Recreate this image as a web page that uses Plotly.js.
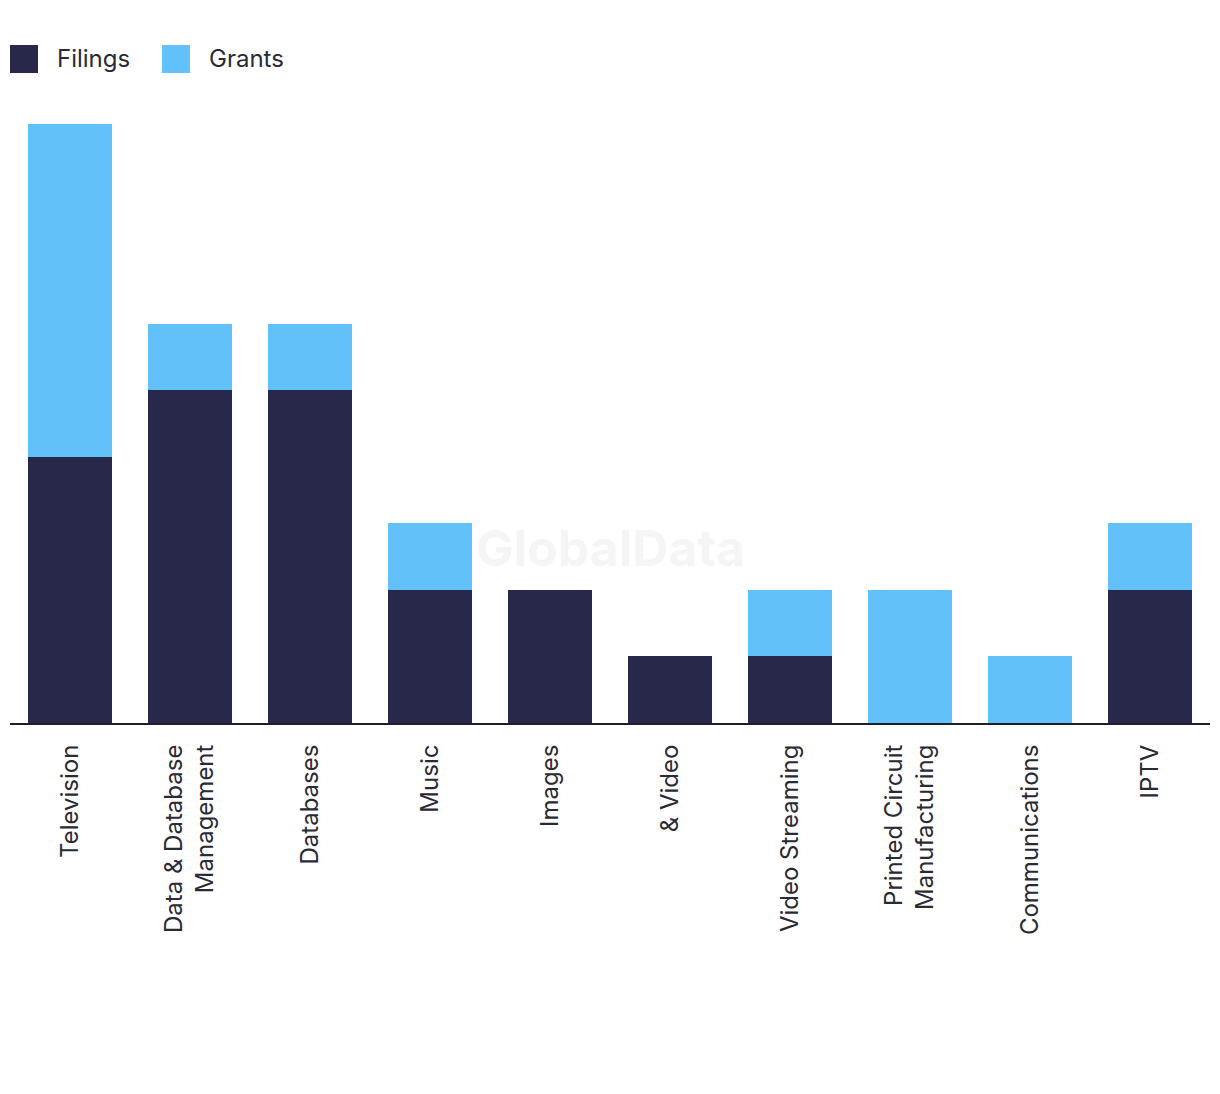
<!DOCTYPE html>
<html>
<head>
<meta charset="utf-8">
<script src="https://cdn.plot.ly/plotly-3.0.1.min.js"></script>
<style>html,body{margin:0;padding:0;background:#fff;}#chart{width:1220px;height:1094px;}</style>
</head>
<body>
<div id="chart"></div>
<script>
const categories = ["Television", "Data & Database<br>Management", "Databases", "Music", "Images", "& Video", "Video Streaming", "Printed Circuit<br>Manufacturing", "Communications", "IPTV"];
const filings = [4, 5, 5, 2, 2, 1, 1, 0, 0, 2];
const grants = [5, 1, 1, 1, 0, 0, 1, 2, 1, 1];
const seriesNames = ["Filings", "Grants"];
const seriesColors = ["#27284a", "#61c1f8"];

const fontFamily = "Inter, 'Liberation Sans', sans-serif";
const textColor = "#2a2a35";
const data = [
  {type: "bar", name: seriesNames[0], x: categories, y: filings, marker: {color: seriesColors[0]}, hoverinfo: "x+y+name"},
  {type: "bar", name: seriesNames[1], x: categories, y: grants, marker: {color: seriesColors[1]}, hoverinfo: "x+y+name"}
];

// custom legend with large square swatches
const legendX = [10, 162];
const shapes = seriesNames.map((n, i) => ({
  type: "rect", xref: "paper", yref: "paper", xsizemode: "pixel", ysizemode: "pixel",
  xanchor: (legendX[i] - 10) / 1200, yanchor: 1 + (124 - 59) / 599,
  x0: 0, x1: 28, y0: -14, y1: 14,
  fillcolor: seriesColors[i], line: {width: 0}
}));
const legendAnn = seriesNames.map((n, i) => ({
  text: n, xref: "paper", yref: "paper", showarrow: false,
  x: (legendX[i] + 45 - 10) / 1200, xanchor: "left",
  y: 1 + (124 - 58) / 599, yanchor: "middle",
  font: {size: 24, color: textColor, family: fontFamily}
}));

const layout = {
  width: 1220, height: 1094,
  barmode: "stack",
  bargap: 0.3,
  margin: {l: 10, r: 10, t: 124, b: 371},
  paper_bgcolor: "#fff", plot_bgcolor: "#fff",
  font: {family: fontFamily, color: textColor, size: 24},
  showlegend: false,
  xaxis: {tickangle: -90, showline: true, linecolor: "#1e1e2e", linewidth: 2, ticks: "", ticklabelstandoff: 10, tickfont: {size: 24, color: textColor}, showgrid: false, fixedrange: true},
  yaxis: {range: [0, 9], visible: false, showgrid: false, zeroline: false, fixedrange: true},
  shapes: shapes,
  annotations: [{text: "GlobalData", xref: "paper", yref: "paper", x: 0.5, y: (723 - 548) / 599, xanchor: "center", yanchor: "middle", showarrow: false, font: {size: 50, color: "#f5f5f5", family: fontFamily, weight: 700}}].concat(legendAnn)
};
Plotly.newPlot("chart", data, layout, {displayModeBar: false});
</script>
</body>
</html>
